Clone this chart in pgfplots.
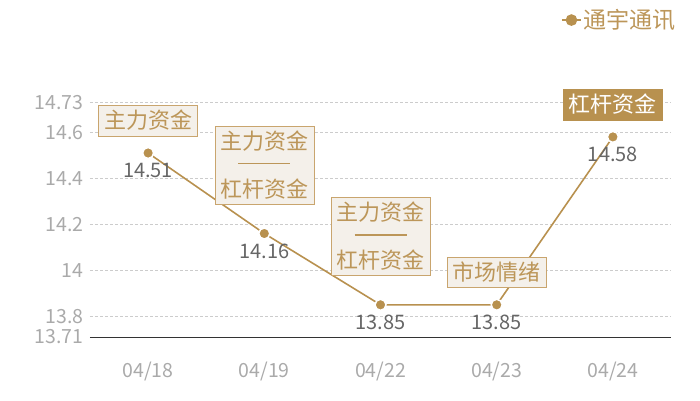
\documentclass[border=0pt]{standalone}
\usepackage{pgfplots}
\pgfplotsset{compat=1.18}
\usepackage{fontspec}
\setmainfont{Noto Sans CJK SC}
\definecolor{gold}{HTML}{B8914F}
\definecolor{goldtext}{HTML}{BC9659}
\definecolor{boxline}{HTML}{C9A56E}
\definecolor{boxfill}{HTML}{F4F0EA}
\definecolor{numgray}{HTML}{666666}
\definecolor{tickgray}{HTML}{AAAAAA}
\tikzset{note/.style={draw=boxline, fill=boxfill, text=goldtext, inner xsep=5.5pt, inner ysep=5pt,
    font=\fontsize{22}{24}\selectfont, align=center, anchor=south, yshift=17pt}}
\begin{document}
\begin{tikzpicture}
\useasboundingbox (-90pt,-63pt) rectangle (610pt,337pt);
\begin{axis}[
    at={(0pt,0pt)}, anchor=south west,
    scale only axis,
    width=581pt, height=234.6pt,
    xmin=-0.5, xmax=4.5,
    ymin=13.71, ymax=14.73,
    xtick={0,1,2,3,4},
    xticklabels={04/18,04/19,04/22,04/23,04/24},
    ytick={13.71,13.8,14,14.2,14.4,14.6,14.73},
    yticklabels={13.71,13.8,14,14.2,14.4,14.6,14.73},
    /pgf/number format/assume math mode=true,
    major tick length=0pt,
    axis line style={draw=none},
    ymajorgrids, major grid style={densely dashed, gray!40, line width=0.5pt},
    tick label style={text=tickgray, font=\fontsize{19.5}{22}\selectfont},
    xticklabel style={yshift=-21pt},
    yticklabel style={xshift=-3pt},
    clip=false,
    legend style={at={(axis description cs:1.012,1.351)}, anchor=east, draw=none, fill=none,
        font=\fontsize{23}{25}\selectfont, text=goldtext, inner sep=0pt},
]
\draw[black!80, line width=0.8pt] (rel axis cs:0,0) -- (rel axis cs:1,0);
\addplot[gold, line width=1.6pt, mark=*, mark size=5.5pt, mark options={fill=gold, draw=white, line width=1.5pt},
    legend image code/.code={
        \draw[gold, line width=1.6pt] (0pt,0pt) -- (19pt,0pt);
        \fill[gold] (9.5pt,0pt) circle (5pt);},
    nodes near coords={\pgfmathprintnumber[fixed,precision=2,fixed zerofill]{\pgfplotspointmeta}},
    nodes near coords align={below},
    every node near coord/.append style={text=numgray, yshift=-6pt, font=\fontsize{20}{22}\selectfont}]
    coordinates {(0,14.51) (1,14.16) (2,13.85) (3,13.85) (4,14.58)};
\addlegendentry{通宇通讯}
\node[note] at (axis cs:0,14.51) {主力资金};
\node[note, yshift=12pt] at (axis cs:1,14.16) {主力资金\\\raisebox{9pt}{\textcolor{goldtext}{\rule{52pt}{1.6pt}}}\\杠杆资金};
\node[note, yshift=12pt] at (axis cs:2,13.85) {主力资金\\\raisebox{9pt}{\textcolor{goldtext}{\rule{52pt}{1.6pt}}}\\杠杆资金};
\node[note] at (axis cs:3,13.85) {市场情绪};
\node[note, fill=gold, draw=gold, text=white] at (axis cs:4,14.58) {杠杆资金};
\end{axis}
\end{tikzpicture}
\end{document}
